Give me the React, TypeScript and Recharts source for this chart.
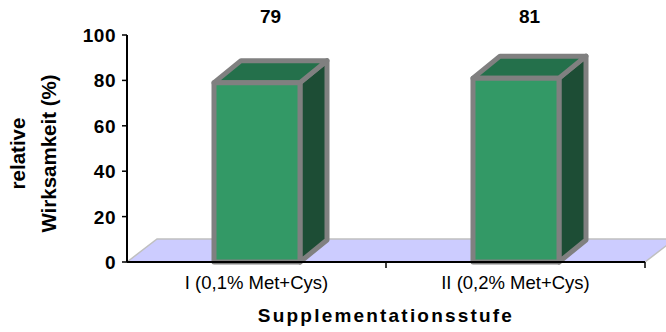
import React from "react";
import { BarChart, Bar, XAxis, YAxis, ReferenceArea, LabelList } from "recharts";

const CATEGORIES = ["I (0,1% Met+Cys)", "II (0,2% Met+Cys)"];
const EFFICACY = [79, 81];
const Y_TICKS = [0, 20, 40, 60, 80, 100];

const data = CATEGORIES.map((name, i) => ({ name, value: EFFICACY[i] }));

const W = 666;
const H = 332;
const MARGIN = { top: 35, right: 21, bottom: 0, left: 0 };
const Y_AXIS_W = 127;
const X_AXIS_H = 70;
const PLOT_W = W - MARGIN.left - Y_AXIS_W - MARGIN.right;
const HALF_BAND = PLOT_W / CATEGORIES.length / 2;

const FONT = "'Liberation Sans', Arial, sans-serif";
// 3d offsets for the boxes and the floor plane
const DEPTH_X = 27;
const DEPTH_Y = 22;
const FLOOR_X = 30;
const FLOOR_Y = 23;

function Box3D(props: any) {
  const { x, y, width: w, height: h } = props;
  const top = `${x},${y} ${x + DEPTH_X},${y - DEPTH_Y} ${x + w + DEPTH_X},${y - DEPTH_Y} ${x + w},${y}`;
  const side = `${x + w},${y} ${x + w + DEPTH_X},${y - DEPTH_Y} ${x + w + DEPTH_X},${y + h - DEPTH_Y} ${x + w},${y + h}`;
  return (
    <g stroke="#808080" strokeWidth={5} strokeLinejoin="round">
      <polygon points={side} fill="#1d4d35" />
      <polygon points={top} fill="#24704b" />
      <rect x={x} y={y} width={w} height={h} fill="#339966" />
    </g>
  );
}

function Floor(props: any) {
  const { x, y, width: w, height: h } = props;
  const b = y + h;
  const pts = `${x},${b} ${x + FLOOR_X},${b - FLOOR_Y} ${x + w + FLOOR_X},${b - FLOOR_Y} ${x + w},${b}`;
  return <polygon points={pts} fill="#ccccff" stroke="#c0c0c0" strokeWidth={1.5} />;
}

function YTick(props: any) {
  const { x, y, payload } = props;
  return (
    <text x={x} y={y} dy={7} textAnchor="end" fontFamily={FONT} fontSize={19} fontWeight="bold" letterSpacing={0.5} fill="#000">
      {payload.value}
    </text>
  );
}

function XTick(props: any) {
  const { x, y, payload } = props;
  return (
    <g>
      <line x1={x + HALF_BAND} y1={y} x2={x + HALF_BAND} y2={y + 6} stroke="#000" strokeWidth={1.5} />
      <text x={x} y={y + 27} textAnchor="middle" fontFamily={FONT} fontSize={18.5} fill="#000">
        {payload.value}
      </text>
    </g>
  );
}

function YTitle(props: any) {
  const { viewBox } = props;
  const cy = viewBox.y + viewBox.height / 2 + 5;
  const common = { textAnchor: "middle" as const, fontFamily: FONT, fontSize: 20.5, fontWeight: "bold", fill: "#000" };
  return (
    <g>
      <text x={25} y={cy} transform={`rotate(-90, 25, ${cy})`} {...common}>relative</text>
      <text x={56} y={cy} transform={`rotate(-90, 56, ${cy})`} {...common}>Wirksamkeit (%)</text>
    </g>
  );
}

function XTitle(props: any) {
  const { viewBox } = props;
  return (
    <text x={viewBox.x + viewBox.width / 2} y={viewBox.y + 60} textAnchor="middle" fontFamily={FONT} fontSize={19} fontWeight="bold" letterSpacing={2.2} fill="#000">
      Supplementationsstufe
    </text>
  );
}

function ValueLabel(props: any) {
  const { x, width, value } = props;
  return (
    <text x={x + width / 2 + DEPTH_X / 2} y={MARGIN.top - 12} textAnchor="middle" fontFamily={FONT} fontSize={19} fontWeight="bold" fill="#000">
      {value}
    </text>
  );
}

export default function App() {
  return (
    <div style={{ position: "absolute", left: 0, top: 0, width: W, height: H, background: "#fff" }}>
      <BarChart width={W} height={H} data={data} margin={MARGIN}>
        <ReferenceArea y1={0} y2={1} ifOverflow="visible" shape={<Floor />} />
        <XAxis
          dataKey="name"
          height={X_AXIS_H}
          tickSize={0}
          tickMargin={0}
          tickLine={false}
          tick={<XTick />}
          axisLine={{ stroke: "#000", strokeWidth: 2 }}
          label={<XTitle />}
          interval={0}
        />
        <YAxis
          width={Y_AXIS_W}
          domain={[0, 100]}
          ticks={Y_TICKS}
          tickSize={5}
          tickMargin={6}
          tickLine={{ stroke: "#000", strokeWidth: 1.5 }}
          axisLine={{ stroke: "#000", strokeWidth: 2 }}
          tick={<YTick />}
          label={<YTitle />}
        />
        <Bar dataKey="value" barSize={86} shape={<Box3D />} isAnimationActive={false}>
          <LabelList dataKey="value" content={<ValueLabel />} />
        </Bar>
      </BarChart>
    </div>
  );
}
